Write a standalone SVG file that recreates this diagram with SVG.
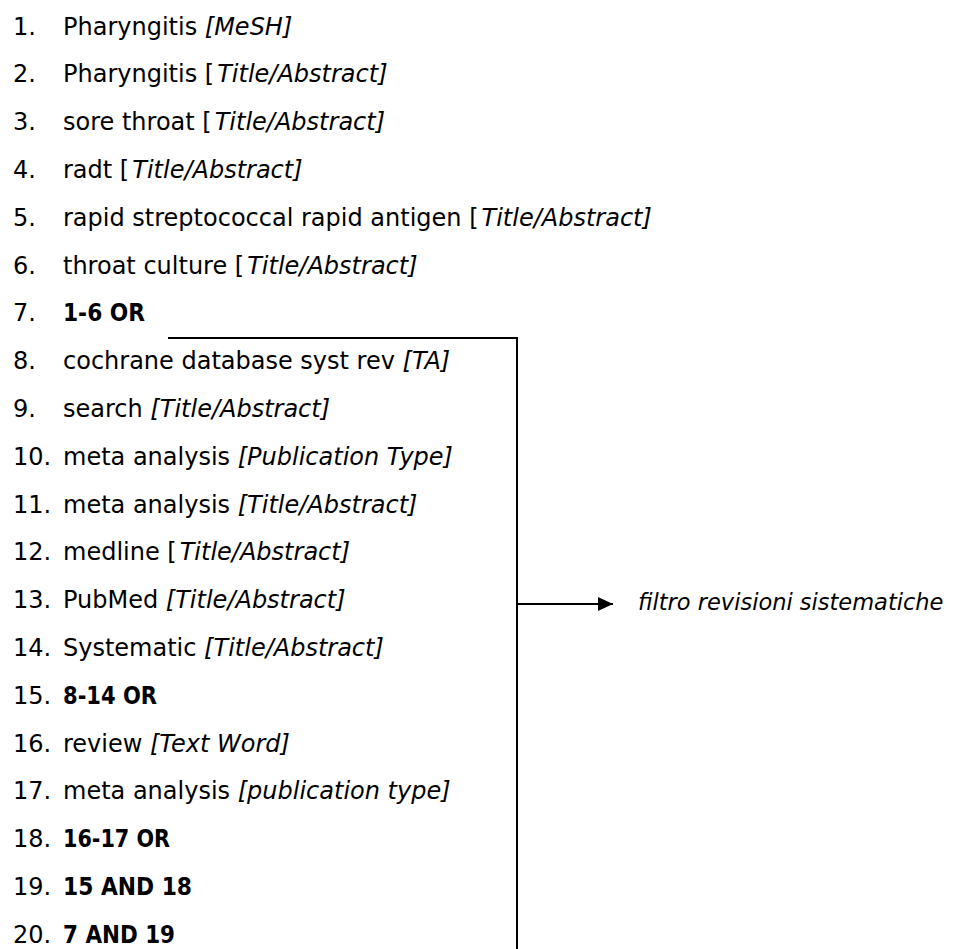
<svg xmlns="http://www.w3.org/2000/svg" width="953" height="949" viewBox="0 0 953 949">
<style>
text{font-family:"DejaVu Sans","Verdana",sans-serif;font-size:24px;fill:#000}
.i{font-style:italic}
.b{font-weight:bold}
.c{fill:none;stroke:#000;stroke-width:2}
</style>
<defs>
<marker id="ah" markerWidth="16" markerHeight="14" refX="15" refY="7" orient="auto" markerUnits="userSpaceOnUse">
<path d="M0,0 L15,7 L0,14 Z" fill="#000"/>
</marker>
</defs>
<rect width="953" height="949" fill="#fff"/>
<g id="r1"><text x="13" y="34.5">1.</text><text x="63" y="34.5">Pharyngitis <tspan class="i">[MeSH]</tspan></text></g>
<g id="r2"><text x="13" y="82.3">2.</text><text x="63" y="82.3">Pharyngitis [<tspan class="i" dx="3">Title/Abstract]</tspan></text></g>
<g id="r3"><text x="13" y="130.1">3.</text><text x="63" y="130.1">sore throat [<tspan class="i" dx="3">Title/Abstract]</tspan></text></g>
<g id="r4"><text x="13" y="177.9">4.</text><text x="63" y="177.9">radt [<tspan class="i" dx="3">Title/Abstract]</tspan></text></g>
<g id="r5"><text x="13" y="225.7">5.</text><text x="63" y="225.7">rapid streptococcal rapid antigen [<tspan class="i" dx="3">Title/Abstract]</tspan></text></g>
<g id="r6"><text x="13" y="273.5">6.</text><text x="63" y="273.5">throat culture [<tspan class="i" dx="3">Title/Abstract]</tspan></text></g>
<g id="r7"><text x="13" y="321.3">7.</text><text x="63" y="321.3" class="b" textLength="82" lengthAdjust="spacingAndGlyphs">1-6 OR</text></g>
<g id="r8"><text x="13" y="369.1">8.</text><text x="63" y="369.1">cochrane database syst rev <tspan class="i">[TA]</tspan></text></g>
<g id="r9"><text x="13" y="416.9">9.</text><text x="63" y="416.9">search <tspan class="i">[Title/Abstract]</tspan></text></g>
<g id="r10"><text x="13" y="464.7">10.</text><text x="63" y="464.7">meta analysis <tspan class="i">[Publication Type]</tspan></text></g>
<g id="r11"><text x="13" y="512.5">11.</text><text x="63" y="512.5">meta analysis <tspan class="i">[Title/Abstract]</tspan></text></g>
<g id="r12"><text x="13" y="560.3">12.</text><text x="63" y="560.3">medline [<tspan class="i" dx="3">Title/Abstract]</tspan></text></g>
<g id="r13"><text x="13" y="608.1">13.</text><text x="63" y="608.1">PubMed <tspan class="i">[Title/Abstract]</tspan></text></g>
<g id="r14"><text x="13" y="655.9">14.</text><text x="63" y="655.9">Systematic <tspan class="i">[Title/Abstract]</tspan></text></g>
<g id="r15"><text x="13" y="703.7">15.</text><text x="63" y="703.7" class="b" textLength="94" lengthAdjust="spacingAndGlyphs">8-14 OR</text></g>
<g id="r16"><text x="13" y="751.5">16.</text><text x="63" y="751.5">review <tspan class="i">[Text Word]</tspan></text></g>
<g id="r17"><text x="13" y="799.3">17.</text><text x="63" y="799.3">meta analysis <tspan class="i">[publication type]</tspan></text></g>
<g id="r18"><text x="13" y="847.1">18.</text><text x="63" y="847.1" class="b" textLength="107" lengthAdjust="spacingAndGlyphs">16-17 OR</text></g>
<g id="r19"><text x="13" y="894.9">19.</text><text x="63" y="894.9" class="b" textLength="129" lengthAdjust="spacingAndGlyphs">15 AND 18</text></g>
<g id="r20"><text x="13" y="942.7">20.</text><text x="63" y="942.7" class="b" textLength="112" lengthAdjust="spacingAndGlyphs">7 AND 19</text></g>
<g id="label"><text x="638" y="610" class="i" style="font-size:22.5px">filtro revisioni sistematiche</text></g>
<g id="connectors">
<path class="c" d="M168,338 H517 V949"/>
<path class="c" d="M517,604 H613" marker-end="url(#ah)"/>
</g>
</svg>
